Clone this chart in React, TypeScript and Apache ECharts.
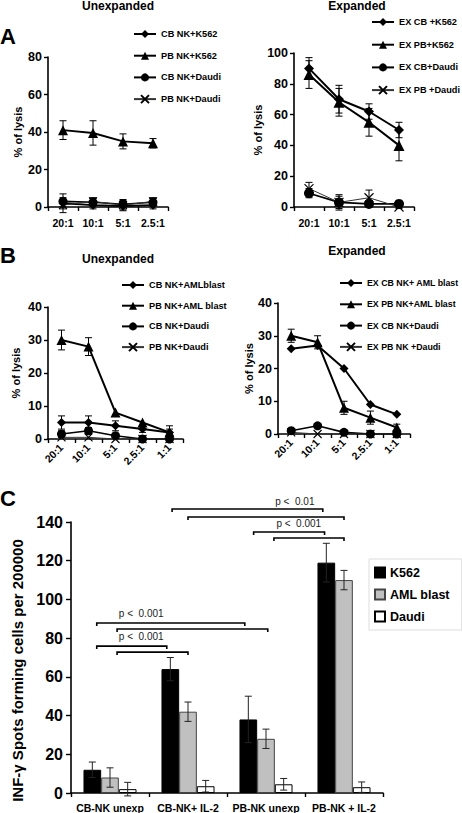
import React, { useEffect, useRef } from 'react';
import * as echarts from 'echarts';

const FONT = 'Arial, "Liberation Sans", sans-serif';

const ratiosA = ['20:1', '10:1', '5:1', '2.5:1'];
const ratiosB = ['20:1', '10:1', '5:1', '2.5:1', '1:1'];

// Panel A, unexpanded
const aUnCbK562 = [2, 1, 0.5, 1];
const aUnCbK562Err = [2, 2, 2, 2];
const aUnPbK562 = [41, 39.5, 35, 34];
const aUnPbK562Err = [5, 6.5, 4, 2.5];
const aUnCbDaudi = [3, 2.5, 1.5, 2.5];
const aUnCbDaudiErr = [4, 2, 2, 2];
const aUnPbDaudi = [1, 3, 1, 3];
const aUnPbDaudiErr = [4, 2, 3, 2];

// Panel A, expanded
const aExCbK562 = [90, 70, 62, 50];
const aExCbK562Err = [7, 9, 5, 5];
const aExPbK562 = [86, 68, 55, 40];
const aExPbK562Err = [9, 9, 9, 10];
const aExCbDaudi = [9, 3, 2, 2];
const aExCbDaudiErr = [3, 4, 2, 1];
const aExPbDaudi = [12, 3, 6, 0];
const aExPbDaudiErr = [4, 5, 5, 1];

// Panel B, unexpanded
const bUnCbAml = [5, 5, 4, 3, 2];
const bUnCbAmlErr = [2, 2, 1.5, 1, 1];
const bUnPbAml = [30, 28, 8, 5, 2];
const bUnPbAmlErr = [3, 2.7, 0, 0, 2];
const bUnCbDaudi = [1.5, 2.5, 1, 0, 0];
const bUnCbDaudiErr = [1, 1, 0, 0, 0];
const bUnPbDaudi = [0.5, 0.5, 0, 0, 0];
const bUnPbDaudiErr = [0, 0, 0, 0, 0];

// Panel B, expanded
const bExCbAml = [26, 27, 20, 9, 6];
const bExCbAmlErr = [0, 0, 0, 0, 0];
const bExPbAml = [30, 28, 8, 5, 2];
const bExPbAmlErr = [2, 2, 2, 2, 1];
const bExCbDaudi = [1, 2.5, 0.5, 0, 0];
const bExCbDaudiErr = [0, 0, 0, 0, 0];
const bExPbDaudi = [0.5, 0, 0, 0, 0];
const bExPbDaudiErr = [0, 0, 0, 0, 0];

// Panel C
const groupsC = ['CB-NK unexp', 'CB-NK+ IL-2', 'PB-NK unexp', 'PB-NK + IL-2'];
const k562 = [12, 64, 38, 119];
const k562Err = [4, 6, 12, 10];
const amlBlast = [8, 42, 28, 110];
const amlBlastErr = [5, 5, 5, 5];
const daudi = [2, 3.5, 4.5, 3];
const daudiErr = [3.5, 3, 3, 2.7];

// significance brackets: [cat1, barOffset1, cat2, barOffset2, level]
const brackets = [
  [0, -0.75, 2, -1.2, 87.8],
  [0, 0.4, 2, 0.1, 84.7],
  [0, -0.75, 1, -1.2, 75.9],
  [0, 0.4, 1, 0, 72.8],
  [1, -0.9, 3, -1.2, 146.7],
  [1, 0, 3, 0, 142.6],
  [2, -0.7, 3, -1.1, 134.8],
  [2, 0.45, 3, 0, 131.7],
];
// p-value labels: [cat, fraction of band, level]
const pLabelPos = [
  [0, 0.4, 92.5],
  [0, 0.4, 80.6],
  [2, 0.37, 150.8],
  [2, 0.42, 139],
];
const pLabels = ['p <  0.001', 'p <  0.001', 'p <  0.01', 'p <  0.001'];

const BAR_GAP = 0.32;

const symbolOf = ['diamond', 'triangle', 'circle', 'path://M0,0L10,10M10,0L0,10'];
const sizeOf = [9, 10, 9, 8];
const widthOf = [2, 2, 1.6, 1];
const colorOf = ['#000', '#000', '#000', '#333'];

type LS = { name: string; values: number[]; errs: number[]; kind: number };

const panels: { grid: number; items: LS[] }[] = [
  {
    grid: 0,
    items: [
      { name: 'CB NK+K562', values: aUnCbK562, errs: aUnCbK562Err, kind: 0 },
      { name: 'PB NK+K562', values: aUnPbK562, errs: aUnPbK562Err, kind: 1 },
      { name: 'CB NK+Daudi', values: aUnCbDaudi, errs: aUnCbDaudiErr, kind: 2 },
      { name: 'PB NK+Daudi', values: aUnPbDaudi, errs: aUnPbDaudiErr, kind: 3 },
    ],
  },
  {
    grid: 1,
    items: [
      { name: 'EX CB +K562', values: aExCbK562, errs: aExCbK562Err, kind: 0 },
      { name: 'EX PB+K562', values: aExPbK562, errs: aExPbK562Err, kind: 1 },
      { name: 'EX CB+Daudi', values: aExCbDaudi, errs: aExCbDaudiErr, kind: 2 },
      { name: 'EX PB +Daudi', values: aExPbDaudi, errs: aExPbDaudiErr, kind: 3 },
    ],
  },
  {
    grid: 2,
    items: [
      { name: 'CB NK+AMLblast', values: bUnCbAml, errs: bUnCbAmlErr, kind: 0 },
      { name: 'PB NK+AML blast', values: bUnPbAml, errs: bUnPbAmlErr, kind: 1 },
      { name: 'CB NK+Daudi', values: bUnCbDaudi, errs: bUnCbDaudiErr, kind: 2 },
      { name: 'PB NK+Daudi', values: bUnPbDaudi, errs: bUnPbDaudiErr, kind: 3 },
    ],
  },
  {
    grid: 3,
    items: [
      { name: 'EX CB NK+ AML blast', values: bExCbAml, errs: bExCbAmlErr, kind: 0 },
      { name: 'EX PB NK+AML blast', values: bExPbAml, errs: bExPbAmlErr, kind: 1 },
      { name: 'EX CB NK+Daudi', values: bExCbDaudi, errs: bExCbDaudiErr, kind: 2 },
      { name: 'EX PB NK +Daudi', values: bExPbDaudi, errs: bExPbDaudiErr, kind: 3 },
    ],
  },
];

const errRender = (capW: number, lw: number) => (_p: any, api: any) => {
  const x = api.value(0);
  const p1 = api.coord([x, api.value(1)]);
  const p2 = api.coord([x, api.value(2)]);
  const style = { stroke: '#000', lineWidth: lw, fill: 'none' };
  return {
    type: 'group',
    children: [
      { type: 'line', shape: { x1: p1[0], y1: p1[1], x2: p2[0], y2: p2[1] }, style },
      { type: 'line', shape: { x1: p1[0] - capW, y1: p1[1], x2: p1[0] + capW, y2: p1[1] }, style },
      { type: 'line', shape: { x1: p2[0] - capW, y1: p2[1], x2: p2[0] + capW, y2: p2[1] }, style },
    ],
  };
};

const barW = (api: any) => (api.size([1, 0])[0] * (1 - BAR_GAP)) / 3;

const barErrRender = (k: number) => (_p: any, api: any) => {
  const c = api.value(0);
  const dx = (k - 1) * barW(api);
  const p1 = api.coord([c, api.value(1)]);
  const p2 = api.coord([c, api.value(2)]);
  const x = p1[0] + dx;
  const capW = 3.5;
  const style = { stroke: '#222', lineWidth: 1, fill: 'none' };
  return {
    type: 'group',
    children: [
      { type: 'line', shape: { x1: x, y1: p1[1], x2: x, y2: p2[1] }, style },
      { type: 'line', shape: { x1: x - capW, y1: p1[1], x2: x + capW, y2: p1[1] }, style },
      { type: 'line', shape: { x1: x - capW, y1: p2[1], x2: x + capW, y2: p2[1] }, style },
    ],
  };
};

const bracketRender = (_p: any, api: any) => {
  const bw = barW(api);
  const y = api.value(4);
  const a = api.coord([api.value(0), y]);
  const b = api.coord([api.value(2), y]);
  const x1 = a[0] + api.value(1) * bw;
  const x2 = b[0] + api.value(3) * bw;
  return {
    type: 'polyline',
    shape: { points: [[x1, a[1] + 3], [x1, a[1]], [x2, a[1]], [x2, a[1] + 3]] },
    style: { stroke: '#000', lineWidth: 1.6, fill: 'none' },
  };
};

const pTextRender = (p: any, api: any) => {
  const band = api.size([1, 0])[0];
  const pt = api.coord([api.value(0), api.value(2)]);
  return {
    type: 'text',
    x: pt[0] + api.value(1) * band,
    y: pt[1],
    style: {
      text: pLabels[p.dataIndex],
      fontSize: 10,
      fontFamily: FONT,
      fill: '#222',
      align: 'center',
      verticalAlign: 'middle',
    },
  };
};

function buildOption(): any {
  const series: any[] = [];
  panels.forEach((panel) => {
    panel.items.forEach((it) => {
      const k = it.kind;
      series.push({
        type: 'line',
        name: it.name,
        xAxisIndex: panel.grid,
        yAxisIndex: panel.grid,
        data: it.values,
        symbol: symbolOf[k],
        symbolSize: panel.grid === 1 ? sizeOf[k] + 1 : sizeOf[k],
        lineStyle: { color: colorOf[k], width: widthOf[k] },
        itemStyle:
          k === 3
            ? { color: '#000', borderColor: '#000', borderWidth: 1.1 }
            : { color: '#000', borderWidth: 0 },
        z: 3,
      });
      const errData = it.values
        .map((v, i) => [i, v - it.errs[i], v + it.errs[i], it.errs[i]])
        .filter((d) => d[3] > 0);
      if (errData.length) {
        series.push({
          type: 'custom',
          xAxisIndex: panel.grid,
          yAxisIndex: panel.grid,
          data: errData,
          encode: { x: 0, y: [1, 2] },
          renderItem: errRender(3.5, 1),
          clip: false,
          z: 2,
        });
      }
    });
  });

  const barDefs = [
    { name: 'K562', values: k562, errs: k562Err, color: '#000', border: '#000' },
    { name: 'AML blast', values: amlBlast, errs: amlBlastErr, color: '#c0c0c0', border: '#444' },
    { name: 'Daudi', values: daudi, errs: daudiErr, color: '#fff', border: '#000' },
  ];
  barDefs.forEach((b, k) => {
    series.push({
      type: 'bar',
      name: b.name,
      xAxisIndex: 4,
      yAxisIndex: 4,
      data: b.values,
      barGap: '0%',
      barCategoryGap: BAR_GAP * 100 + '%',
      itemStyle: { color: b.color, borderColor: b.border, borderWidth: 1 },
    });
    series.push({
      type: 'custom',
      xAxisIndex: 4,
      yAxisIndex: 4,
      data: b.values.map((v, i) => [i, v - b.errs[i], v + b.errs[i]]),
      encode: { x: 0, y: [1, 2] },
      renderItem: barErrRender(k),
      clip: false,
      z: 4,
    });
  });
  series.push({
    type: 'custom',
    xAxisIndex: 4,
    yAxisIndex: 4,
    data: brackets,
    encode: { x: 0, y: 4 },
    renderItem: bracketRender,
    clip: false,
    z: 5,
  });
  series.push({
    type: 'custom',
    xAxisIndex: 4,
    yAxisIndex: 4,
    data: pLabelPos,
    encode: { x: 0, y: 2 },
    renderItem: pTextRender,
    clip: false,
    z: 5,
  });

  const axisLine = { lineStyle: { color: '#000', width: 1.6 } };
  const axisTick = { show: true, length: 4, lineStyle: { color: '#000', width: 1.4 } };
  const lbl = (size: number, extra: any = {}) => ({
    color: '#000',
    fontSize: size,
    fontWeight: 'bold',
    fontFamily: FONT,
    ...extra,
  });

  const xAxis = [
    { gridIndex: 0, type: 'category', data: ratiosA, axisLine, axisTick, axisLabel: lbl(10.5, { margin: 10, interval: 0 }) },
    { gridIndex: 1, type: 'category', data: ratiosA, axisLine, axisTick, axisLabel: lbl(10.5, { margin: 10, interval: 0 }) },
    { gridIndex: 2, type: 'category', data: ratiosB, axisLine, axisTick, axisLabel: lbl(10.5, { rotate: 45, margin: 7, interval: 0 }) },
    { gridIndex: 3, type: 'category', data: ratiosB, axisLine, axisTick, axisLabel: lbl(10.5, { rotate: 45, margin: 7, interval: 0 }) },
    { gridIndex: 4, type: 'category', data: groupsC, axisLine, axisTick, axisLabel: lbl(10.5, { margin: 9, interval: 0 }) },
  ];
  const lysisName = (gap: number) => ({
    name: '% of lysis',
    nameLocation: 'middle',
    nameRotate: 90,
    nameGap: gap,
    nameTextStyle: { color: '#000', fontSize: 11, fontWeight: 'bold', fontFamily: FONT },
  });
  const yAxis = [
    { gridIndex: 0, type: 'value', min: 0, max: 80, interval: 20, ...lysisName(25), axisLine: { show: true, ...axisLine }, axisTick, splitLine: { show: false }, axisLabel: lbl(12.5, { margin: 6 }) },
    { gridIndex: 1, type: 'value', min: 0, max: 100, interval: 20, ...lysisName(28), axisLine: { show: true, ...axisLine }, axisTick, splitLine: { show: false }, axisLabel: lbl(12.5, { margin: 6 }) },
    { gridIndex: 2, type: 'value', min: 0, max: 40, interval: 10, ...lysisName(27), axisLine: { show: true, ...axisLine }, axisTick, splitLine: { show: false }, axisLabel: lbl(12.5, { margin: 6 }) },
    { gridIndex: 3, type: 'value', min: 0, max: 40, interval: 10, ...lysisName(18), axisLine: { show: true, ...axisLine }, axisTick, splitLine: { show: false }, axisLabel: lbl(12.5, { margin: 6 }) },
    {
      gridIndex: 4,
      type: 'value',
      min: 0,
      max: 140,
      interval: 20,
      name: 'INF-γ Spots forming cells per 200000',
      nameLocation: 'middle',
      nameRotate: 90,
      nameGap: 46,
      nameTextStyle: { color: '#000', fontSize: 15, fontWeight: 'bold', fontFamily: FONT, padding: [0, 26, 0, 0] },
      axisLine: { show: true, ...axisLine },
      axisTick: { show: true, length: 5, lineStyle: { color: '#000', width: 1.4 } },
      splitLine: { show: false },
      axisLabel: lbl(16, { margin: 8 }),
    },
  ];

  const lineLegend = (names: string[], left: number, top: number, gap: number, fs: number) => ({
    data: names,
    orient: 'vertical',
    left,
    top,
    itemWidth: 22,
    itemHeight: 10,
    itemGap: gap,
    padding: 0,
    selectedMode: false,
    textStyle: { color: '#000', fontSize: fs, fontWeight: 'bold', fontFamily: FONT, lineHeight: 12 },
  });

  const text = (t: string, x: number, y: number, size: number) => ({
    type: 'text',
    x,
    y,
    style: {
      text: t,
      fontSize: size,
      fontWeight: 'bold',
      fontFamily: FONT,
      fill: '#000',
      align: 'center',
      verticalAlign: 'middle',
    },
  });

  return {
    animation: false,
    backgroundColor: '#fff',
    grid: [
      { left: 48, top: 57, width: 120, height: 150 },
      { left: 294, top: 53, width: 120, height: 154 },
      { left: 48, top: 307, width: 135, height: 132 },
      { left: 278, top: 303, width: 132, height: 131 },
      { left: 71, top: 522, width: 312, height: 271 },
    ],
    xAxis,
    yAxis,
    legend: [
      lineLegend(panels[0].items.map((d) => d.name), 133, 28, 9.7, 9.2),
      lineLegend(panels[1].items.map((d) => d.name), 371, 16, 10.7, 9.2),
      lineLegend(panels[2].items.map((d) => d.name), 121, 279, 8.7, 9.2),
      lineLegend(panels[3].items.map((d) => d.name), 339, 277, 9.3, 8.8),
      {
        data: ['K562', 'AML blast', 'Daudi'],
        orient: 'vertical',
        left: 369,
        top: 559,
        icon: 'rect',
        itemWidth: 10,
        itemHeight: 10,
        itemGap: 7,
        padding: [6, 12, 6, 5],
        borderColor: '#ddd',
        borderWidth: 1,
        selectedMode: false,
        textStyle: { color: '#000', fontSize: 12.5, fontWeight: 'bold', fontFamily: FONT, lineHeight: 15 },
      },
    ],
    graphic: [
      text('Unexpanded', 118, 6, 12),
      text('Expanded', 357, 6, 12),
      text('Unexpanded', 118, 259, 12),
      text('Expanded', 357, 251, 12),
      text('A', 8, 36, 22),
      text('B', 8, 255, 22),
      text('C', 8, 498, 22),
    ],
    series,
  };
}

export default function App() {
  const ref = useRef<HTMLDivElement>(null);
  useEffect(() => {
    if (!ref.current) return;
    const chart = echarts.init(ref.current, undefined, { renderer: 'svg' });
    chart.setOption(buildOption());
    return () => chart.dispose();
  }, []);
  return (
    <div
      ref={ref}
      style={{ position: 'fixed', left: 0, top: 0, width: 462, height: 813, background: '#fff' }}
    />
  );
}
